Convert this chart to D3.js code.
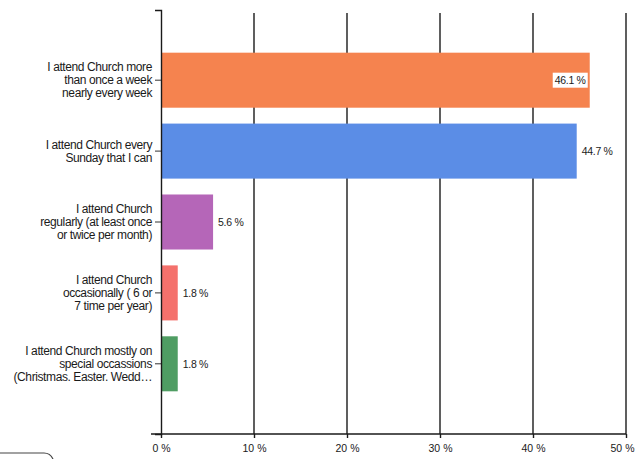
<!DOCTYPE html>
<html>
<head>
<meta charset="utf-8">
<script src="https://cdn.jsdelivr.net/npm/d3@7"></script>
<style>
  html, body { margin: 0; padding: 0; background: #fff; }
  svg { display: block; }
  text { font-family: "Liberation Sans", Arial, sans-serif; fill: #1a1a1a; }
</style>
</head>
<body>
<svg id="chart" width="635" height="459"></svg>
<script>
// ---- data ----
const categories = [
  "I attend Church more\nthan once a week\nnearly every week",
  "I attend Church every\nSunday that I can",
  "I attend Church\nregularly (at least once\nor twice per month)",
  "I attend Church\noccasionally ( 6 or\n7 time per year)",
  "I attend Church mostly on\nspecial occassions\n(Christmas. Easter. Wedd…"
];
const values = [46.1, 44.7, 5.6, 1.8, 1.8];
const valueLabels = ["46.1 %", "44.7 %", "5.6 %", "1.8 %", "1.8 %"];
const colors = ["#F5834F", "#5B8DE6", "#B566B8", "#F4716C", "#4F9D63"];
const xTicks = [0, 10, 20, 30, 40, 50];
const xTickLabels = ["0 %", "10 %", "20 %", "30 %", "40 %", "50 %"];

// ---- layout ----
const svg = d3.select("#chart");
const x = d3.scaleLinear().domain([0, 50]).range([161, 626]);
const y = d3.scaleBand().domain(categories).range([10, 434])
  .paddingInner(0.224).paddingOuter(0.602);

// gridlines
svg.append("g").selectAll("line").data(xTicks.slice(1)).join("line")
  .attr("x1", d => x(d)).attr("x2", d => x(d))
  .attr("y1", 13).attr("y2", 434)
  .attr("stroke", "#1a1a1a").attr("stroke-width", 1.4);

// bars
svg.append("g").selectAll("rect").data(categories).join("rect")
  .attr("x", x(0))
  .attr("y", d => y(d))
  .attr("width", (d, i) => x(values[i]) - x(0))
  .attr("height", y.bandwidth())
  .attr("fill", (d, i) => colors[i]);

// x axis
const xAxis = d3.axisBottom(x).tickValues(xTicks)
  .tickFormat((d, i) => xTickLabels[i]).tickSize(4).tickPadding(7).tickSizeOuter(0);
const gx = svg.append("g").attr("transform", "translate(0,434)").call(xAxis);
gx.select(".domain").remove();
gx.append("line").attr("x1", 151).attr("x2", x(50)).attr("y1", 0).attr("y2", 0)
  .attr("stroke", "#1a1a1a").attr("stroke-width", 1.4);
gx.selectAll(".tick line").attr("stroke", "#1a1a1a").attr("stroke-width", 1.4);
gx.selectAll(".tick text").attr("font-size", "10.5px").attr("fill", "#1a1a1a")
  .style("font-family", "'Liberation Sans', Arial, sans-serif")
  .attr("dx", (d, i) => i === xTicks.length - 1 ? -4 : 0);

// y axis
const yAxis = d3.axisLeft(y).tickSize(6).tickSizeOuter(6).tickPadding(3).tickFormat("");
const gy = svg.append("g").attr("transform", `translate(${x(0)},0)`).call(yAxis);
gy.select(".domain").attr("stroke", "#1a1a1a").attr("stroke-width", 1.4);
gy.selectAll(".tick line").attr("stroke", "#333").attr("stroke-width", 1);
gy.selectAll(".tick").each(function(d) {
  const lines = d.split("\n");
  const t = d3.select(this).append("text")
    .attr("text-anchor", "end").attr("x", -9)
    .attr("font-size", "12px").attr("letter-spacing", "-0.4px").attr("fill", "#1a1a1a");
  const lh = 13;
  lines.forEach((ln, k) => {
    t.append("tspan").attr("x", -9)
      .attr("y", (k - (lines.length - 1) / 2) * lh + 4)
      .text(ln);
  });
});

// value labels
const vl = svg.append("g");
categories.forEach((c, i) => {
  const cy = y(c) + y.bandwidth() / 2;
  const xe = x(values[i]);
  if (i === 0) {
    vl.append("rect").attr("x", xe - 37).attr("y", cy - 7.5).attr("width", 35).attr("height", 15).attr("fill", "#fff");
    vl.append("text").attr("x", xe - 35).attr("y", cy + 4).attr("font-size", "10.5px")
      .attr("letter-spacing", "-0.3px").text(valueLabels[i]);
  } else {
    vl.append("text").attr("x", xe + 5).attr("y", cy + 4).attr("font-size", "10.5px")
      .attr("letter-spacing", "-0.3px").text(valueLabels[i]);
  }
});

// scan remnant: corner of a box at bottom left
svg.append("path").attr("d", "M0,453 H44 Q50,453 53,459")
  .attr("fill", "none").attr("stroke", "#444").attr("stroke-width", 1.2);
</script>
</body>
</html>
